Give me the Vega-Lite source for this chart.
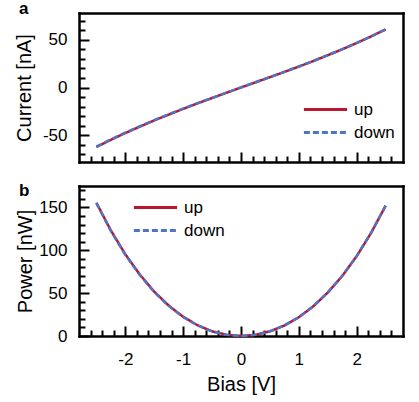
{
  "$schema": "https://vega.github.io/schema/vega-lite/v6.json",
  "padding": {"left": 14, "top": 0, "right": 5, "bottom": 3},
  "spacing": 19,
  "datasets": {
    "iv": [
      {"V": -2.5, "I": -62.3, "P": 155.5, "s": "up"},
      {"V": -2.25, "I": -54.8, "P": 123.3, "s": "up"},
      {"V": -2.0, "I": -47.7, "P": 95.4, "s": "up"},
      {"V": -1.75, "I": -41.0, "P": 71.8, "s": "up"},
      {"V": -1.5, "I": -34.5, "P": 51.8, "s": "up"},
      {"V": -1.25, "I": -28.4, "P": 35.5, "s": "up"},
      {"V": -1.0, "I": -22.4, "P": 22.4, "s": "up"},
      {"V": -0.75, "I": -16.6, "P": 12.5, "s": "up"},
      {"V": -0.5, "I": -11.0, "P": 5.5, "s": "up"},
      {"V": -0.25, "I": -5.5, "P": 1.4, "s": "up"},
      {"V": 0.0, "I": 0.0, "P": 0.0, "s": "up"},
      {"V": 0.25, "I": 5.4, "P": 1.4, "s": "up"},
      {"V": 0.5, "I": 10.8, "P": 5.4, "s": "up"},
      {"V": 0.75, "I": 16.3, "P": 12.2, "s": "up"},
      {"V": 1.0, "I": 21.9, "P": 21.9, "s": "up"},
      {"V": 1.25, "I": 27.7, "P": 34.6, "s": "up"},
      {"V": 1.5, "I": 33.8, "P": 50.7, "s": "up"},
      {"V": 1.75, "I": 40.0, "P": 70.0, "s": "up"},
      {"V": 2.0, "I": 46.6, "P": 93.2, "s": "up"},
      {"V": 2.25, "I": 53.5, "P": 120.4, "s": "up"},
      {"V": 2.5, "I": 60.8, "P": 152.0, "s": "up"},
      {"V": -2.5, "I": -62.0, "P": 155.0, "s": "down"},
      {"V": -2.25, "I": -54.4, "P": 122.6, "s": "down"},
      {"V": -2.0, "I": -47.3, "P": 94.8, "s": "down"},
      {"V": -1.75, "I": -40.6, "P": 71.2, "s": "down"},
      {"V": -1.5, "I": -34.1, "P": 51.3, "s": "down"},
      {"V": -1.25, "I": -28.1, "P": 35.1, "s": "down"},
      {"V": -1.0, "I": -22.1, "P": 22.1, "s": "down"},
      {"V": -0.75, "I": -16.4, "P": 12.3, "s": "down"},
      {"V": -0.5, "I": -10.9, "P": 5.4, "s": "down"},
      {"V": -0.25, "I": -5.4, "P": 1.3, "s": "down"},
      {"V": 0.0, "I": 0.1, "P": 0.0, "s": "down"},
      {"V": 0.25, "I": 5.5, "P": 1.4, "s": "down"},
      {"V": 0.5, "I": 10.9, "P": 5.5, "s": "down"},
      {"V": 0.75, "I": 16.4, "P": 12.3, "s": "down"},
      {"V": 1.0, "I": 22.0, "P": 22.0, "s": "down"},
      {"V": 1.25, "I": 27.8, "P": 34.8, "s": "down"},
      {"V": 1.5, "I": 33.9, "P": 50.9, "s": "down"},
      {"V": 1.75, "I": 40.1, "P": 70.2, "s": "down"},
      {"V": 2.0, "I": 46.7, "P": 93.4, "s": "down"},
      {"V": 2.25, "I": 53.6, "P": 120.6, "s": "down"},
      {"V": 2.5, "I": 60.9, "P": 152.2, "s": "down"}
    ]
  },
  "config": {
    "font": "Liberation Sans",
    "view": {"stroke": null},
    "axis": {
      "grid": false,
      "domain": false,
      "domainColor": "black",
      "domainWidth": 2.5,
      "domainCap": "square",
      "labelFont": "Liberation Sans",
      "labelFontSize": 17,
      "labelColor": "black",
      "labelExpr": "replace(datum.label, '\u2212', '-')",
      "titleFont": "Liberation Sans",
      "titleFontSize": 20,
      "titleFontWeight": "normal",
      "titleColor": "black",
      "tickColor": "black",
      "tickWidth": 2
    },
    "legend": {
      "labelFont": "Liberation Sans",
      "labelFontSize": 17,
      "labelColor": "black"
    },
    "title": {
      "font": "Liberation Sans",
      "fontSize": 17,
      "fontWeight": "bold",
      "color": "black",
      "anchor": "start",
      "frame": "group",
      "baseline": "alphabetic",
      "offset": 0
    }
  },
  "resolve": {"legend": {"color": "independent", "strokeDash": "independent"}},
  "vconcat": [
    {
      "width": 324,
      "height": 149,
      "title": {"text": "a", "dx": -60, "dy": 9},
      "layer": [
        {
          "data": {"name": "iv"},
          "mark": {"type": "line", "strokeWidth": 2.5},
          "encoding": {
            "x": {"field": "V", "type": "quantitative", "scale": {"domain": [-2.8, 2.8], "nice": false, "zero": false},
                  "axis": {"orient": "bottom", "values": [-2, -1, 0, 1, 2], "labels": false, "ticks": false, "domain": true, "title": null}},
            "y": {"field": "I", "type": "quantitative", "scale": {"domain": [-78, 78], "nice": false},
                  "axis": {"orient": "left", "values": [-50, 0, 50], "ticks": false, "domain": true, "labelPadding": 12, "title": "Current [nA]", "titlePadding": 8}},
            "color": {"field": "s", "type": "nominal", "scale": {"domain": ["up", "down"], "range": ["#b8172f", "#4f74c6"]},
                      "legend": {"title": null, "orient": "none", "legendX": 236, "legendY": 86, "symbolType": "M-2.4,0H2.4", "symbolSize": 324, "symbolStrokeWidth": 3, "labelOffset": 18, "rowPadding": 4, "padding": 0}},
            "strokeDash": {"field": "s", "type": "nominal", "scale": {"domain": ["up", "down"], "range": [[1, 0], [6, 3]]},
                      "legend": {"title": null, "orient": "none", "legendX": 236, "legendY": 86, "symbolType": "M-2.4,0H2.4", "symbolSize": 324, "symbolStrokeWidth": 3, "labelOffset": 18, "rowPadding": 4, "padding": 0}}
          }
        },
        {
          "data": {"name": "iv"},
          "mark": {"type": "line", "opacity": 0},
          "encoding": {
            "x": {"field": "V", "type": "quantitative", "axis": {"orient": "top", "labels": false, "ticks": false, "domain": true, "title": null}},
            "y": {"field": "I", "type": "quantitative", "axis": {"orient": "right", "labels": false, "ticks": false, "domain": true, "title": null}}
          }
        },
        {
          "data": {"name": "iv"},
          "mark": {"type": "line", "opacity": 0},
          "encoding": {
            "x": {"field": "V", "type": "quantitative", "axis": {"orient": "bottom", "values": [-2, -1, 0, 1, 2], "labels": false, "ticks": true, "offset": -10, "tickSize": 10, "title": null}},
            "y": {"field": "I", "type": "quantitative", "axis": {"orient": "left", "values": [-50, 0, 50], "labels": false, "ticks": true, "offset": -10, "tickSize": 10, "title": null}}
          }
        },
        {
          "data": {"name": "iv"},
          "mark": {"type": "line", "opacity": 0},
          "encoding": {
            "x": {"field": "V", "type": "quantitative", "axis": {"orient": "bottom", "values": [-2.6, -2.4, -2.2, -1.8, -1.6, -1.4, -1.2, -0.8, -0.6, -0.4, -0.2, 0.2, 0.4, 0.6, 0.8, 1.2, 1.4, 1.6, 1.8, 2.2, 2.4, 2.6], "labels": false, "ticks": true, "offset": -6, "tickSize": 6, "title": null}},
            "y": {"field": "I", "type": "quantitative", "axis": {"orient": "left", "values": [-70, -60, -40, -30, -20, -10, 10, 20, 30, 40, 60, 70], "labels": false, "ticks": true, "offset": -6, "tickSize": 6, "title": null}}
          }
        }
      ],
      "resolve": {"axis": {"x": "independent", "y": "independent"}}
    },
    {
      "width": 324,
      "height": 150,
      "title": {"text": "b", "dx": -60, "dy": 18},
      "layer": [
        {
          "data": {"name": "iv"},
          "mark": {"type": "line", "strokeWidth": 2.5},
          "encoding": {
            "x": {"field": "V", "type": "quantitative", "scale": {"domain": [-2.8, 2.8], "nice": false, "zero": false},
                  "axis": {"orient": "bottom", "values": [-2, -1, 0, 1, 2], "ticks": false, "domain": true, "labelPadding": 15, "title": "Bias [V]", "titlePadding": 7}},
            "y": {"field": "P", "type": "quantitative", "scale": {"domain": [0, 175], "nice": false},
                  "axis": {"orient": "left", "values": [0, 50, 100, 150], "ticks": false, "domain": true, "labelPadding": 12, "title": "Power [nW]", "titlePadding": 3}},
            "color": {"field": "s", "type": "nominal", "scale": {"domain": ["up", "down"], "range": ["#b8172f", "#4f74c6"]},
                      "legend": {"title": null, "orient": "none", "legendX": 66, "legendY": 11, "symbolType": "M-2.4,0H2.4", "symbolSize": 324, "symbolStrokeWidth": 3, "labelOffset": 18, "rowPadding": 4, "padding": 0}},
            "strokeDash": {"field": "s", "type": "nominal", "scale": {"domain": ["up", "down"], "range": [[1, 0], [6, 3]]},
                      "legend": {"title": null, "orient": "none", "legendX": 66, "legendY": 11, "symbolType": "M-2.4,0H2.4", "symbolSize": 324, "symbolStrokeWidth": 3, "labelOffset": 18, "rowPadding": 4, "padding": 0}}
          }
        },
        {
          "data": {"name": "iv"},
          "mark": {"type": "line", "opacity": 0},
          "encoding": {
            "x": {"field": "V", "type": "quantitative", "axis": {"orient": "top", "labels": false, "ticks": false, "domain": true, "title": null}},
            "y": {"field": "P", "type": "quantitative", "axis": {"orient": "right", "labels": false, "ticks": false, "domain": true, "title": null}}
          }
        },
        {
          "data": {"name": "iv"},
          "mark": {"type": "line", "opacity": 0},
          "encoding": {
            "x": {"field": "V", "type": "quantitative", "axis": {"orient": "bottom", "values": [-2, -1, 0, 1, 2], "labels": false, "ticks": true, "offset": -10, "tickSize": 10, "title": null}},
            "y": {"field": "P", "type": "quantitative", "axis": {"orient": "left", "values": [0, 50, 100, 150], "labels": false, "ticks": true, "offset": -10, "tickSize": 10, "title": null}}
          }
        },
        {
          "data": {"name": "iv"},
          "mark": {"type": "line", "opacity": 0},
          "encoding": {
            "x": {"field": "V", "type": "quantitative", "axis": {"orient": "bottom", "values": [-2.6, -2.4, -2.2, -1.8, -1.6, -1.4, -1.2, -0.8, -0.6, -0.4, -0.2, 0.2, 0.4, 0.6, 0.8, 1.2, 1.4, 1.6, 1.8, 2.2, 2.4, 2.6], "labels": false, "ticks": true, "offset": -6, "tickSize": 6, "title": null}},
            "y": {"field": "P", "type": "quantitative", "axis": {"orient": "left", "values": [10, 20, 30, 40, 60, 70, 80, 90, 110, 120, 130, 140, 160, 170], "labels": false, "ticks": true, "offset": -6, "tickSize": 6, "title": null}}
          }
        }
      ],
      "resolve": {"axis": {"x": "independent", "y": "independent"}}
    }
  ]
}
